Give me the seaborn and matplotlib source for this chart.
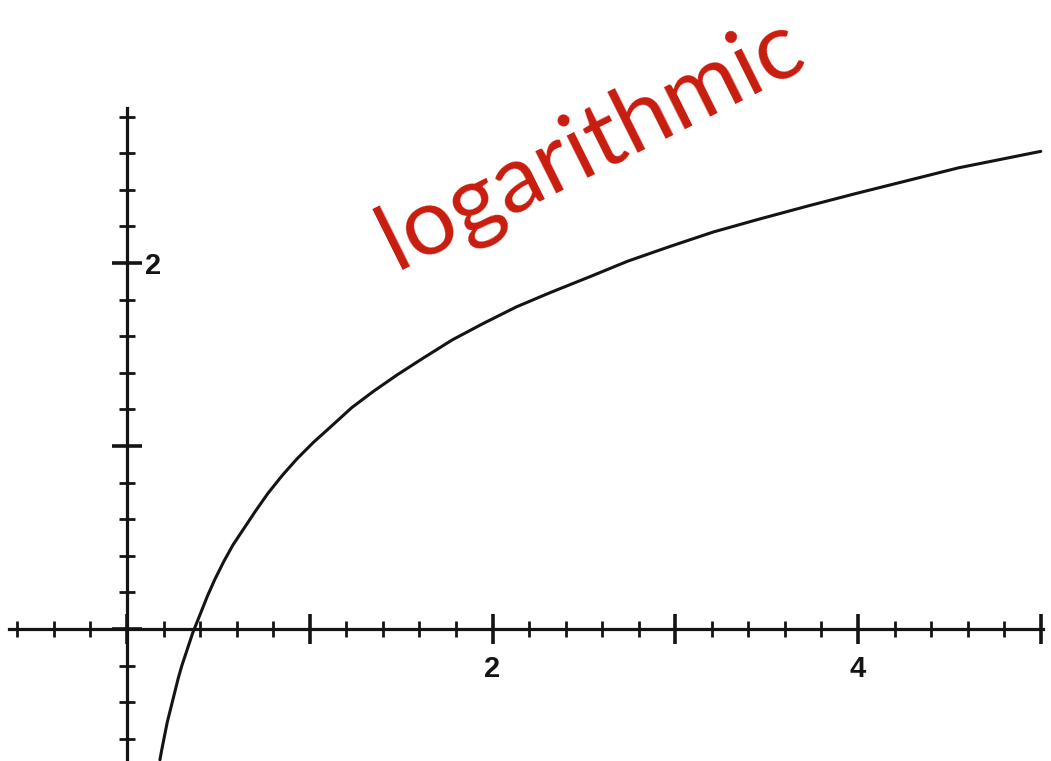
import matplotlib
matplotlib.use("Agg")
import matplotlib.pyplot as plt
import seaborn as sns
from matplotlib.ticker import FixedLocator

# Points along the curve
x_values = [0.18, 0.19, 0.20, 0.22, 0.24, 0.26, 0.28, 0.30, 0.33, 0.36, 0.40,
            0.44, 0.48, 0.53, 0.58, 0.64, 0.70, 0.77, 0.85, 0.93, 1.02, 1.12,
            1.23, 1.35, 1.48, 1.62, 1.78, 1.95, 2.13, 2.32, 2.52, 2.74, 2.97,
            3.21, 3.46, 3.72, 3.99, 4.27, 4.55, 4.80, 5.00]
y_values = [-0.715, -0.66, -0.61, -0.51, -0.43, -0.35, -0.27, -0.20, -0.11, -0.02, 0.08,
            0.18, 0.27, 0.37, 0.46, 0.55, 0.64, 0.74, 0.84, 0.93, 1.02, 1.11,
            1.21, 1.30, 1.39, 1.48, 1.58, 1.67, 1.76, 1.84, 1.92, 2.01, 2.09,
            2.17, 2.24, 2.31, 2.38, 2.45, 2.52, 2.57, 2.61]

# Axis ticks and labels
x_major = [0, 1, 2, 3, 4, 5]
x_major_labels = ["", "", "2", "", "4", ""]
y_major = [0, 1, 2]
y_major_labels = ["", "", "2"]
x_minor = [round(-0.6 + 0.2 * i, 1) for i in range(29)]
y_minor = [round(-0.6 + 0.2 * i, 1) for i in range(18)]

title_text = "logarithmic"

sns.set_theme(style="white")
plt.rcParams["font.family"] = ["Liberation Sans", "DejaVu Sans"]

ink = "#141414"

fig = plt.figure(figsize=(10.51, 7.61), dpi=100)
ax = fig.add_axes([0, 0, 1, 1])
ax.set_facecolor("white")

sns.lineplot(x=x_values, y=y_values, ax=ax, color=ink, linewidth=2.2)
for line in ax.get_lines():
    line.set_solid_joinstyle("round")
    line.set_solid_capstyle("round")

ax.set_xlim(-0.695, 5.056)
ax.set_ylim(-0.721, 3.437)

# Axes crossing at the origin
ax.spines["top"].set_visible(False)
ax.spines["left"].set_visible(False)
ax.spines["bottom"].set_position(("data", 0))
ax.spines["right"].set_position(("data", 0))
ax.spines["bottom"].set_bounds(-0.645, 5.01)
ax.spines["right"].set_bounds(-0.721, 2.847)
for side in ("bottom", "right"):
    ax.spines[side].set_color(ink)
    ax.spines[side].set_linewidth(2.3)

ax.xaxis.tick_bottom()
ax.yaxis.tick_right()

ax.set_xticks(x_major, x_major_labels, fontsize=21, fontweight="bold", color=ink)
ax.set_yticks(y_major, y_major_labels, fontsize=21, fontweight="bold", color=ink)
ax.xaxis.set_minor_locator(FixedLocator(x_minor))
ax.yaxis.set_minor_locator(FixedLocator(y_minor))

ax.tick_params(which="both", bottom=True, right=True, left=False, top=False,
               labelright=True, labelleft=False, direction="inout", color=ink)
ax.tick_params(which="major", length=22, width=2.6)
ax.tick_params(which="minor", length=11, width=2.0)
ax.tick_params(axis="x", which="major", pad=8)
ax.tick_params(axis="y", which="major", pad=2)

ax.grid(False)
ax.set_xlabel("")
ax.set_ylabel("")

ax.text(2.60, 2.525, title_text, color="#c81c0e", fontsize=68, family="Lato",
        rotation=26.5, rotation_mode="anchor", ha="center", va="baseline")

fig.savefig("out.png", dpi=100)
